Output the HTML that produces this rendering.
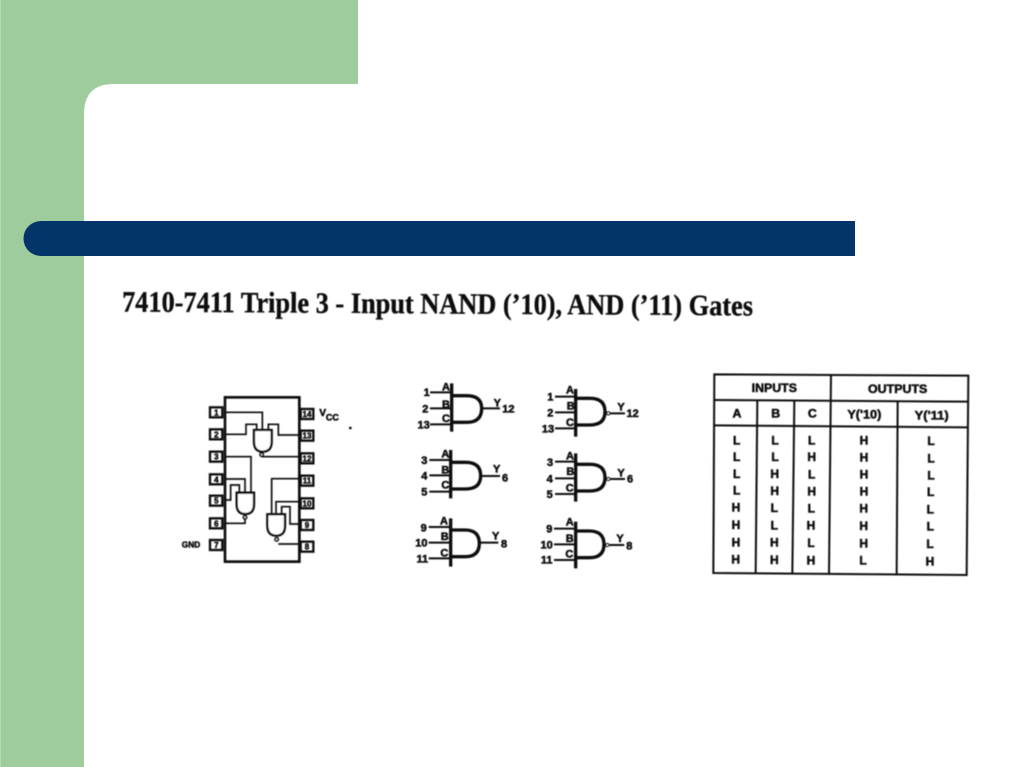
<!DOCTYPE html>
<html lang="en">
<head>
<meta charset="utf-8">
<title>7410-7411 Triple 3 - Input NAND, AND Gates</title>
<style>
html,body{margin:0;padding:0;background:#fff}
body{width:1024px;height:767px;overflow:hidden;position:relative}
svg{position:absolute;left:0;top:0;display:block}
.t{font-family:"Liberation Sans",sans-serif;font-weight:bold;fill:#111;stroke:#111;stroke-width:1.6px;text-anchor:middle}
</style>
</head>
<body>
<svg width="1024" height="767" viewBox="0 0 1024 767" xmlns="http://www.w3.org/2000/svg">
<defs>
<filter id="b" x="-5%" y="-5%" width="110%" height="110%"><feGaussianBlur stdDeviation="0.45"/></filter>
</defs>

<rect width="1024" height="767" fill="#fff"/>
<path fill="#9fcc9c" d="M0 0H358V84H114Q84 84 84 114V767H0Z"/>
<rect x="0" y="0" width="1" height="767" fill="#b4d8b1"/>
<path fill="#03356b" d="M855 221V256H41A17.5 17.5 0 0 1 41 221Z"/>

<g filter="url(#b)">
<text transform="translate(122 311.5) rotate(0.36)" font-family="'Liberation Serif',serif" font-weight="bold" font-size="29.5" fill="#0a0a0a" stroke="#0a0a0a" stroke-width="0.35" textLength="631" lengthAdjust="spacingAndGlyphs">7410-7411 Triple 3 - Input NAND (’10), AND (’11) Gates</text>

<!-- IC package -->
<g transform="translate(170 380) scale(.33333)">
<g fill="none" stroke="#111" stroke-width="7">
<rect x="165" y="52" width="223" height="493" stroke-width="8"/>
<rect x="120" y="82" width="37" height="30"/>
<rect x="120" y="148" width="37" height="30"/>
<rect x="120" y="215" width="37" height="30"/>
<rect x="120" y="283" width="37" height="30"/>
<rect x="120" y="347" width="37" height="30"/>
<rect x="120" y="415" width="37" height="30"/>
<rect x="120" y="480" width="37" height="30"/>
<rect x="392" y="87" width="38" height="30"/>
<rect x="392" y="152" width="38" height="30"/>
<rect x="392" y="220" width="38" height="30"/>
<rect x="392" y="287" width="38" height="30"/>
<rect x="392" y="355" width="38" height="30"/>
<rect x="392" y="420" width="38" height="30"/>
<rect x="392" y="485" width="38" height="30"/>
</g>
<g fill="none" stroke="#111" stroke-width="5">
<path d="M165 97H277V150M165 163H228V133H260V150M295 150V133H325V165H388M275 230H388"/>
<path d="M165 230H243V338M165 297H225V338M165 360H182V315H208V338M165 430H225V417"/>
<path d="M388 296H305V403M388 365H318V403M388 432H360V380H335V403M325 492H388"/>
</g>
<g fill="#fff" stroke="#111" stroke-width="7">
<path d="M252 150H305V185Q305 215 278 215Q252 215 252 185Z"/>
<circle cx="275" cy="224" r="5" stroke-width="5"/>
<path d="M200 338H252V372Q252 402 226 402Q200 402 200 372Z"/>
<circle cx="225" cy="412" r="5" stroke-width="5"/>
<path d="M292 403H345V437Q345 467 319 467Q292 467 292 437Z"/>
<circle cx="320" cy="478" r="5" stroke-width="5"/>
</g>
<g font-size="24">
<text class="t" x="139" y="106">1</text>
<text class="t" x="139" y="172">2</text>
<text class="t" x="139" y="239">3</text>
<text class="t" x="139" y="307">4</text>
<text class="t" x="139" y="371">5</text>
<text class="t" x="139" y="439">6</text>
<text class="t" x="139" y="504">7</text>
<text class="t" x="411" y="111">14</text>
<text class="t" x="411" y="176">13</text>
<text class="t" x="411" y="244">12</text>
<text class="t" x="411" y="311">11</text>
<text class="t" x="411" y="379">10</text>
<text class="t" x="411" y="444">9</text>
<text class="t" x="411" y="509">8</text>
</g>
<text class="t" x="63" y="503" font-size="25">GND</text>
<text class="t" x="458" y="108" font-size="30">V</text>
<text class="t" x="487" y="122" font-size="27">CC</text>
<circle cx="541" cy="144" r="4" fill="#111"/>
</g>

<!-- Logic symbols -->
<g transform="translate(410 375) scale(.33333)">
<g fill="none" stroke="#111" stroke-width="10">
<path d="M125 25V170M125 62H170Q215 62 215 100Q215 142 170 142H125"/>
<path d="M122 225V370M122 262H167Q212 262 212 302Q212 342 167 342H122"/>
<path d="M122 430V575M122 465H165Q208 465 208 505Q208 545 165 545H122"/>
<path d="M497 42V185M497 70H540Q585 70 585 110Q585 150 540 150H497"/>
<path d="M497 235V380M497 268H540Q585 268 585 308Q585 348 540 348H497"/>
<path d="M497 440V580M497 468H538Q582 468 582 508Q582 548 538 548H497"/>
</g>
<g fill="none" stroke="#111" stroke-width="6">
<path d="M60 52H125M60 100H125M60 148H125M215 100H270"/>
<path d="M58 255H122M58 301H122M58 350H122M212 303H270"/>
<path d="M56 456H122M56 503H122M56 550H122M208 503H265"/>
<path d="M435 65H497M435 112H497M435 160H497M601 115H645"/>
<path d="M435 260H497M435 310H497M435 357H497M601 312H645"/>
<path d="M432 461H497M432 508H497M432 555H497M598 510H643"/>
<circle cx="595" cy="115" r="5" stroke-width="3"/>
<circle cx="595" cy="312" r="5" stroke-width="3"/>
<circle cx="592" cy="510" r="5" stroke-width="3"/>
</g>
<g font-size="33">
<text class="t" x="50" y="63">1</text><text class="t" x="46" y="112">2</text><text class="t" x="41" y="161">13</text>
<text class="t" x="108" y="46">A</text><text class="t" x="108" y="99">B</text><text class="t" x="108" y="141">C</text>
<text class="t" x="262" y="94">Y</text><text class="t" x="295" y="112">12</text>

<text class="t" x="43" y="267">3</text><text class="t" x="43" y="313">4</text><text class="t" x="43" y="361">5</text>
<text class="t" x="106" y="247">A</text><text class="t" x="106" y="296">B</text><text class="t" x="106" y="341">C</text>
<text class="t" x="260" y="293">Y</text><text class="t" x="285" y="319">6</text>

<text class="t" x="41" y="469">9</text><text class="t" x="34" y="515">10</text><text class="t" x="37" y="563">11</text>
<text class="t" x="102" y="448">A</text><text class="t" x="104" y="495">B</text><text class="t" x="103" y="544">C</text>
<text class="t" x="257" y="494">Y</text><text class="t" x="282" y="517">8</text>

<text class="t" x="421" y="77">1</text><text class="t" x="421" y="124">2</text><text class="t" x="414" y="172">13</text>
<text class="t" x="480" y="56">A</text><text class="t" x="482" y="104">B</text><text class="t" x="480" y="153">C</text>
<text class="t" x="633" y="106">Y</text><text class="t" x="668" y="126">12</text>

<text class="t" x="420" y="273">3</text><text class="t" x="419" y="322">4</text><text class="t" x="419" y="369">5</text>
<text class="t" x="480" y="253">A</text><text class="t" x="481" y="300">B</text><text class="t" x="479" y="350">C</text>
<text class="t" x="633" y="304">Y</text><text class="t" x="660" y="323">6</text>

<text class="t" x="418" y="472">9</text><text class="t" x="410" y="521">10</text><text class="t" x="410" y="566">11</text>
<text class="t" x="479" y="452">A</text><text class="t" x="479" y="501">B</text><text class="t" x="478" y="548">C</text>
<text class="t" x="630" y="501">Y</text><text class="t" x="658" y="524">8</text>
</g>
</g>

<!-- Truth table -->
<g transform="translate(705 365) scale(.33333)">
<g fill="none" stroke="#111" stroke-width="6">
<path d="M28 28L790 32L785 630L25 624Z"/>
<path d="M30 105L788 110M28 181L787 187"/>
<path d="M378 28L372 627M157 105L152 624M268 107L262 626M578 110L575 628"/>
</g>
<g font-size="37">
<text class="t" x="208" y="81" textLength="136" lengthAdjust="spacingAndGlyphs">INPUTS</text>
<text class="t" x="578" y="84" textLength="178" lengthAdjust="spacingAndGlyphs">OUTPUTS</text>
<text class="t" x="96" y="158">A</text><text class="t" x="212" y="158">B</text><text class="t" x="322" y="158">C</text>
<text class="t" x="478" y="160" textLength="102" lengthAdjust="spacingAndGlyphs">Y('10)</text>
<text class="t" x="680" y="163" textLength="102" lengthAdjust="spacingAndGlyphs">Y('11)</text>
</g>
<g font-size="36">
<text class="t" x="95" y="238">L</text><text class="t" x="210" y="238">L</text><text class="t" x="320" y="238">L</text><text class="t" x="477" y="238">H</text><text class="t" x="678" y="240">L</text>
<text class="t" x="95" y="288">L</text><text class="t" x="210" y="288">L</text><text class="t" x="320" y="288">H</text><text class="t" x="477" y="290">H</text><text class="t" x="678" y="292">L</text>
<text class="t" x="95" y="339">L</text><text class="t" x="209" y="339">H</text><text class="t" x="320" y="340">L</text><text class="t" x="477" y="341">H</text><text class="t" x="678" y="343">L</text>
<text class="t" x="95" y="389">L</text><text class="t" x="209" y="390">H</text><text class="t" x="320" y="391">H</text><text class="t" x="477" y="392">H</text><text class="t" x="677" y="393">L</text>
<text class="t" x="93" y="440">H</text><text class="t" x="208" y="441">L</text><text class="t" x="319" y="442">L</text><text class="t" x="476" y="443">H</text><text class="t" x="676" y="445">L</text>
<text class="t" x="93" y="492">H</text><text class="t" x="208" y="493">L</text><text class="t" x="318" y="494">H</text><text class="t" x="476" y="495">H</text><text class="t" x="676" y="497">L</text>
<text class="t" x="93" y="544">H</text><text class="t" x="208" y="545">H</text><text class="t" x="318" y="546">L</text><text class="t" x="476" y="547">H</text><text class="t" x="675" y="549">L</text>
<text class="t" x="92" y="596">H</text><text class="t" x="208" y="597">H</text><text class="t" x="318" y="598">H</text><text class="t" x="474" y="599">L</text><text class="t" x="675" y="601">H</text>
</g>
</g>
</g>
</svg>
</body>
</html>
